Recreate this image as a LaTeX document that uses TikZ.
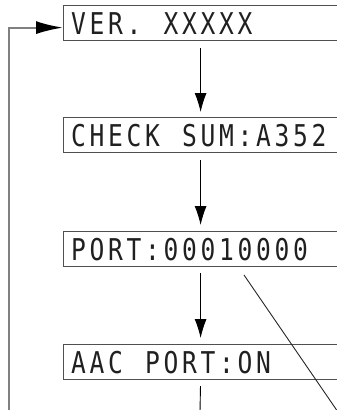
\documentclass[tikz,border=0pt]{standalone}
\usepackage{fontspec}
\usetikzlibrary{arrows.meta}
\newfontfamily\lcdfont{DejaVu Sans Mono}
\makeatletter
\newcommand\lcdstr[1]{\@tfor\lcd@c:=#1\do{\makebox[18.5pt][c]{\scalebox{0.82}[1]{\lcd@c}}}}
\makeatother
\definecolor{boxgray}{HTML}{505050}
\definecolor{loopgray}{HTML}{808080}
\definecolor{txtgray}{HTML}{202020}
\tikzset{
  lcdbox/.style={draw=boxgray, line width=1.2pt, rectangle, minimum width=282pt, minimum height=35pt, inner sep=0pt, anchor=north west, fill=white},
  lcdtxt/.style={anchor=west, inner sep=0pt, text=txtgray, font=\lcdfont\fontsize{30}{30}\selectfont},
  flow/.style={draw=black, line width=0.9pt, -{Latex[length=19pt,width=12pt]}},
  plainline/.style={draw=black, line width=0.9pt},
  loopline/.style={draw=loopgray, line width=2pt, -{Latex[length=27pt,width=13pt,fill=black,color=black]}},
  leader/.style={draw=black!85, line width=0.9pt}
}
\begin{document}
\begin{tikzpicture}[x=1pt,y=-1pt]
\useasboundingbox (0,0) rectangle (337,410);
\clip (0,0) rectangle (337,410);
\node[lcdbox] (b1) at (63,5) {};
\node[lcdbox] (b2) at (63,117) {};
\node[lcdbox] (b3) at (63,231) {};
\node[lcdbox] (b4) at (63,344) {};
\node[lcdtxt] (t1) at ([xshift=6pt]b1.west) {\lcdstr{VER.~XXXXX}};
\node[lcdtxt] (t2) at ([xshift=6pt]b2.west) {\lcdstr{CHECK~SUM:A352}};
\node[lcdtxt] (t3) at ([xshift=6pt]b3.west) {\lcdstr{PORT:00010000}};
\node[lcdtxt] (t4) at ([xshift=6pt]b4.west) {\lcdstr{AAC~PORT:ON}};
\coordinate (bot) at (200,412);
\coordinate (lp) at (9,412);
\coordinate (d1) at (244,275);
\coordinate (d2) at (338,412);
\draw[flow, shorten <=7pt, shorten >=5pt] ([xshift=-4pt]b1.south) -- ([xshift=-4pt]b2.north);
\draw[flow, shorten <=7pt, shorten >=6pt] ([xshift=-4pt]b2.south) -- ([xshift=-4pt]b3.north);
\draw[flow, shorten <=6pt, shorten >=6pt] ([xshift=-4pt]b3.south) -- ([xshift=-4pt]b4.north);
\draw[plainline, shorten <=6pt] ([xshift=-4pt]b4.south) -- (bot);
\draw[loopline] (lp) |- ([yshift=-4.5pt]b1.west);
\draw[leader] (d1) -- (d2);
\end{tikzpicture}
\end{document}
